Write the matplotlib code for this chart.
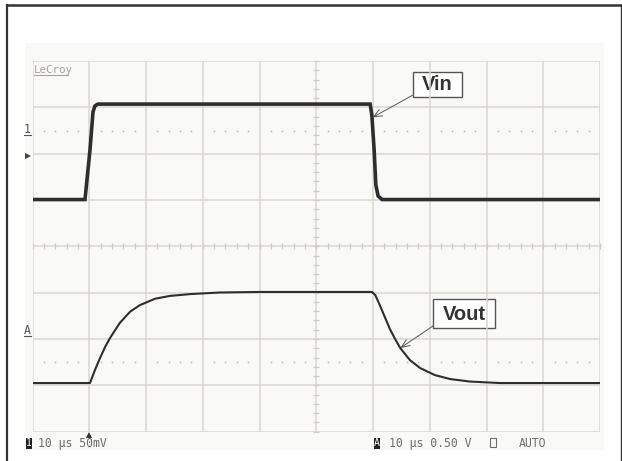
import numpy as np
import matplotlib.pyplot as plt
from matplotlib.patches import Rectangle

# --- Scope settings ---
TIME_PER_DIV = 10.0          # us/div
N_HDIV, N_VDIV = 10, 8
CH1_SCALE, CH1_OFFSET = 50.0, 1.01    # mV/div, ground level in divisions
CHA_SCALE, CHA_OFFSET = 0.5, -2.95    # V/div, ground level in divisions

# --- Channel 1: Vin (mV) ---
vin_t = [0.0, 9.25, 10.13, 10.66, 11.0, 11.5, 59.5, 59.8, 60.2, 60.5, 60.9, 61.6, 100.0]
vin_mv = [0.0, 0.0, 53.5, 94.5, 101.0, 103.0, 103.0, 91.0, 53.5, 15.7, 3.8, 0.0, 0.0]

# --- Channel A: Vout (V) ---
vout_t = [0.0, 10.13, 11.0, 11.9, 12.8, 13.7, 15.4, 17.2, 18.9, 21.6, 24.2, 27.8, 33.0, 40.1,
          59.8, 60.4, 61.2, 62.1, 63.0, 63.9, 64.8, 66.5, 68.3, 70.9, 73.6, 77.1, 82.4, 100.0]
vout_v = [0.0, 0.0, 0.14, 0.27, 0.39, 0.49, 0.65, 0.77, 0.84, 0.91, 0.94, 0.96, 0.977, 0.983,
          0.983, 0.95, 0.84, 0.71, 0.58, 0.475, 0.378, 0.248, 0.162, 0.086, 0.043, 0.016, 0.0, 0.0]

W, H = 622, 461
fig = plt.figure(figsize=(W / 100, H / 100), dpi=100)

# background layer in pixel coordinates
bg = fig.add_axes([0, 0, 1, 1])
bg.set_xlim(0, W)
bg.set_ylim(H, 0)
bg.axis('off')

bg.add_patch(Rectangle((25, 43), 579, 407, facecolor='#f9f9f7', edgecolor='none'))
frame = '#333333'
bg.plot([6, 621], [5, 5], color=frame, lw=1.8, solid_capstyle='butt')
bg.plot([6.5, 6.5], [4, H], color=frame, lw=1.6, solid_capstyle='butt')
bg.plot([620.5, 620.5], [4, H], color=frame, lw=1.0, solid_capstyle='butt')

# graticule axes
gx0, gx1, gy0, gy1 = 32.5, 600.0, 61.0, 431.7
ax = fig.add_axes([gx0 / W, 1 - gy1 / H, (gx1 - gx0) / W, (gy1 - gy0) / H])
ax.set_xlim(0, N_HDIV * TIME_PER_DIV)
ax.set_ylim(-N_VDIV / 2, N_VDIV / 2)
ax.axis('off')
ax.patch.set_alpha(0)

grid_c = '#dcd6d0'
for i in range(N_HDIV + 1):
    ax.axvline(i * TIME_PER_DIV, color=grid_c, lw=1.1, zorder=1)
for j in range(N_VDIV + 1):
    ax.axhline(j - N_VDIV / 2, color=grid_c, lw=1.1, zorder=1)

# minor ticks along the centre lines
minor_t = np.arange(0, 100.01, 2.0)
minor_d = np.arange(-4, 4.01, 0.2)
ax.plot(minor_t, np.zeros_like(minor_t), ls='none', marker='|', ms=5, mew=0.9,
        color='#d2ccc6', zorder=1, clip_on=False)
ax.plot(np.full_like(minor_d, 50.0), minor_d, ls='none', marker='_', ms=5, mew=0.9,
        color='#d2ccc6', zorder=1, clip_on=False)

# dotted reference rows
dots_t = np.array([t for t in minor_t if t % 10 != 0])
for row in (2.5, -2.5):
    ax.plot(dots_t, np.full_like(dots_t, row), ls='none', marker='s', ms=1.1,
            mew=0, color='#bdb7b1', zorder=1)

trace_c = '#2e2e30'
vin_div = np.array(vin_mv) / CH1_SCALE + CH1_OFFSET
vout_div = np.array(vout_v) / CHA_SCALE + CHA_OFFSET
ax.plot(vin_t, vin_div, color=trace_c, lw=2.6, zorder=3, solid_joinstyle='miter')
ax.plot(vout_t, vout_div, color=trace_c, lw=1.5, zorder=3, solid_joinstyle='round')

# callout labels
lab_font = dict(family='Liberation Sans', weight='bold', fontsize=14.5, color='#333333')
for text, (bx, by, bw, bh), tip in [
        ('Vin', (413, 72, 49, 25), (59.9, 103.0 / CH1_SCALE * 0.86 + CH1_OFFSET)),
        ('Vout', (433, 299, 62, 29), (64.8, 0.378 / CHA_SCALE + CHA_OFFSET))]:
    bg.add_patch(Rectangle((bx, by), bw, bh, facecolor='white', edgecolor='#555555',
                           lw=1.0, zorder=4))
    bg.text(bx + bw / 2, by + bh / 2 + 0.5, text, ha='center', va='center', zorder=5, **lab_font)
    ax.annotate('', xy=tip, xycoords='data', xytext=(bx, by + bh - 2),
                textcoords=bg.transData,
                arrowprops=dict(arrowstyle='->,head_length=0.6,head_width=0.25',
                                color='#555555', lw=0.7, shrinkA=0, shrinkB=0), zorder=4)

# scope screen annotations
mono = dict(family='DejaVu Sans Mono', fontsize=8.3, color='#6e6e6e')
bg.text(33.5, 70, 'LeCroy', ha='left', va='center', family='DejaVu Sans Mono',
        fontsize=7.8, color='#a8a4a0')
bg.plot([33.5, 68], [75.5, 75.5], color='#a8a4a0', lw=0.8)
bg.text(27, 129, '1', ha='center', va='center', **{**mono, 'color': '#555555'})
bg.plot([24, 31], [135, 135], color='#555555', lw=0.8)
bg.plot([27.5], [156], marker='>', ms=4, color='#444444', mew=0)
bg.text(27, 330, 'A', ha='center', va='center', **{**mono, 'color': '#555555'})
bg.plot([24, 31], [336, 336], color='#555555', lw=0.8)

# trigger marker
bg.plot([89], [435], marker='^', ms=4, color='#333333', mew=0)

# bottom status line
bg.add_patch(Rectangle((26, 437.5), 5.5, 11, facecolor='#222222', edgecolor='none'))
bg.text(28.8, 443, '1', ha='center', va='center', family='DejaVu Sans Mono',
        fontsize=7, color='white')
bg.text(38, 443, '10 µs 50mV', ha='left', va='center', **mono)
bg.add_patch(Rectangle((373.5, 437.5), 6, 11, facecolor='#222222', edgecolor='none'))
bg.text(376.5, 443, 'A', ha='center', va='center', family='DejaVu Sans Mono',
        fontsize=7, color='white')
bg.text(389, 443, '10 µs 0.50 V', ha='left', va='center', **mono)
bg.add_patch(Rectangle((490, 437.5), 6, 9, facecolor='none', edgecolor='#6e6e6e', lw=0.8))
bg.text(519, 443, 'AUTO', ha='left', va='center', **mono)

fig.savefig('out.png', dpi=100)
